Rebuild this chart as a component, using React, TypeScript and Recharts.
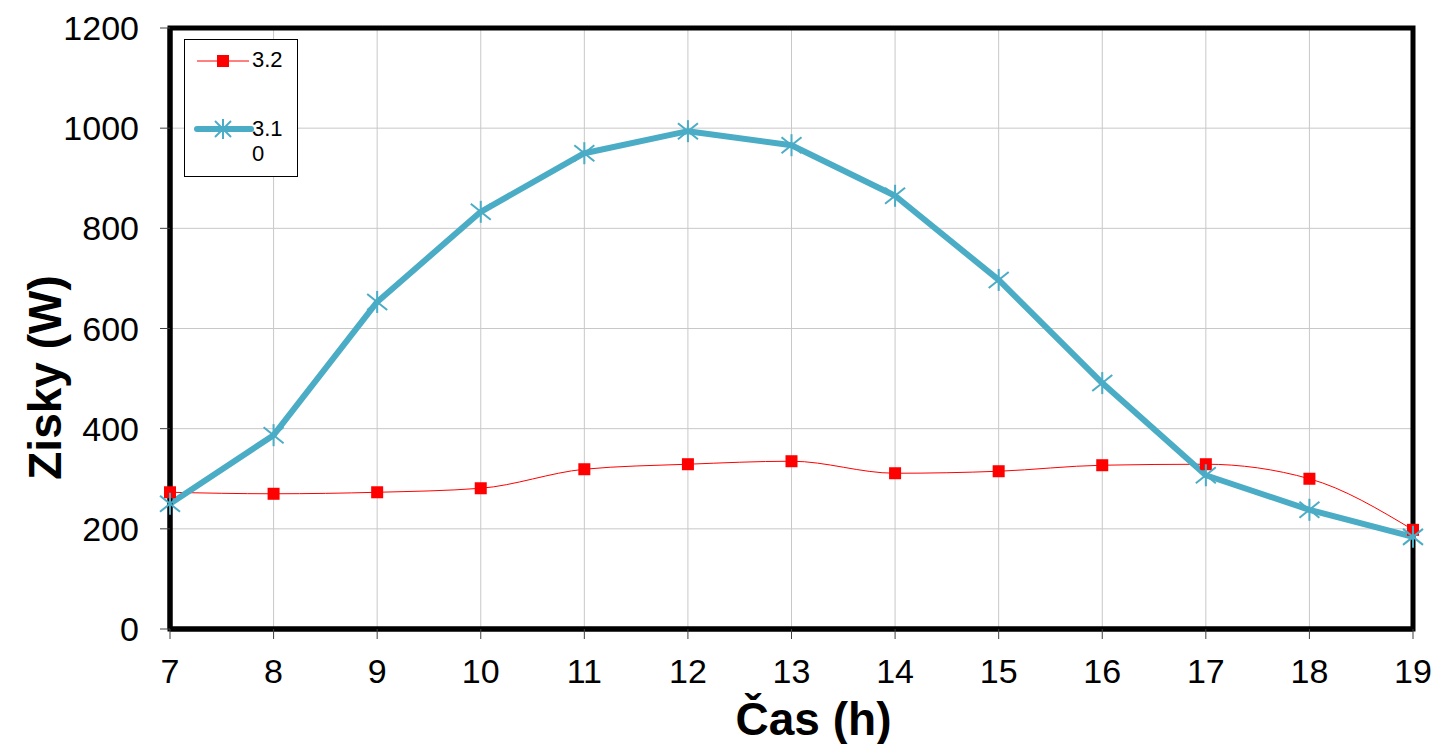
import {
  CartesianGrid,
  Legend,
  Line,
  LineChart,
  ReferenceArea,
  XAxis,
  YAxis,
} from "recharts";

const hours = [7, 8, 9, 10, 11, 12, 13, 14, 15, 16, 17, 18, 19];
const gains32 = [273, 270, 273, 281, 319, 329, 335, 311, 315, 327, 329, 300, 198];
const gains310 = [250, 387, 653, 833, 950, 994, 966, 865, 697, 491, 307, 238, 184];
const yTicks = [0, 200, 400, 600, 800, 1000, 1200];

const FONT = "'Liberation Sans', Arial, sans-serif";
const RED = "#FF0000";
const BLUE = "#4BACC6";

const data = hours.map((h, i) => ({
  hour: h,
  s32: gains32[i],
  s310: gains310[i],
}));

function SquareDot({ cx, cy }: { cx?: number; cy?: number }) {
  if (cx == null || cy == null) return null;
  return <rect x={cx - 6} y={cy - 6} width={12} height={12} fill={RED} />;
}

function StarDot({ cx, cy }: { cx?: number; cy?: number }) {
  if (cx == null || cy == null) return null;
  return (
    <g stroke={BLUE} strokeWidth={2}>
      <line x1={cx - 10} y1={cy - 8} x2={cx + 10} y2={cy + 8} />
      <line x1={cx - 10} y1={cy + 8} x2={cx + 10} y2={cy - 8} />
      <line x1={cx} y1={cy - 11} x2={cx} y2={cy + 11} />
    </g>
  );
}

function ChartLegend() {
  return (
    <div
      style={{
        width: 114,
        height: 138,
        border: "1px solid #000",
        background: "#fff",
        boxSizing: "border-box",
        position: "relative",
        fontFamily: FONT,
        fontSize: 22,
        color: "#000",
      }}
    >
      <svg width={60} height={20} style={{ position: "absolute", left: 10, top: 11 }}>
        <line x1={2} y1={10} x2={54} y2={10} stroke={RED} strokeWidth={1} />
        <rect x={22} y={4} width={12} height={12} fill={RED} />
      </svg>
      <div style={{ position: "absolute", left: 67, top: 8, lineHeight: "24px" }}>3.2</div>
      <svg width={64} height={24} style={{ position: "absolute", left: 8, top: 77 }}>
        <line x1={4} y1={12} x2={58} y2={12} stroke={BLUE} strokeWidth={6} strokeLinecap="round" />
        <line x1={22} y1={4} x2={38} y2={20} stroke={BLUE} strokeWidth={2} />
        <line x1={22} y1={20} x2={38} y2={4} stroke={BLUE} strokeWidth={2} />
        <line x1={30} y1={2} x2={30} y2={22} stroke={BLUE} strokeWidth={2} />
      </svg>
      <div
        style={{
          position: "absolute",
          left: 67,
          top: 76,
          width: 36,
          lineHeight: "25px",
          wordBreak: "break-all",
        }}
      >
        3.10
      </div>
    </div>
  );
}

function YLabel({ viewBox }: { viewBox?: { x: number; y: number; width: number; height: number } }) {
  if (!viewBox) return null;
  const x = viewBox.x + 45;
  const y = viewBox.y + viewBox.height / 2 + 49;
  return (
    <text
      x={x}
      y={y}
      transform={`rotate(-90 ${x} ${y})`}
      textAnchor="middle"
      dominantBaseline="central"
      fontFamily={FONT}
      fontSize={46}
      fontWeight="bold"
      fill="#000"
    >
      Zisky (W)
    </text>
  );
}

function XLabel({ viewBox }: { viewBox?: { x: number; y: number; width: number; height: number } }) {
  if (!viewBox) return null;
  return (
    <text
      x={viewBox.x + viewBox.width / 2 + 22}
      y={viewBox.y + 106}
      textAnchor="middle"
      fontFamily={FONT}
      fontSize={46}
      fontWeight="bold"
      fill="#000"
    >
      Čas (h)
    </text>
  );
}

export default function App() {
  const tickStyle = { fontFamily: FONT, fontSize: 34, fill: "#000" };
  return (
    <div style={{ position: "absolute", left: 0, top: 0, width: 1437, height: 744, background: "#fff" }}>
      <LineChart
        width={1437}
        height={744}
        data={data}
        margin={{ top: 28, right: 24, left: 0, bottom: 0 }}
      >
        <CartesianGrid stroke="#c8c8c8" strokeWidth={1} />
        <XAxis
          dataKey="hour"
          type="number"
          domain={[7, 19]}
          ticks={hours}
          height={115}
          tick={tickStyle}
          tickSize={10}
          tickMargin={20}
          tickLine={{ stroke: "#404040", strokeWidth: 1 }}
          axisLine={{ stroke: "#000", strokeWidth: 5 }}
          label={<XLabel />}
        />
        <YAxis
          type="number"
          domain={[0, 1200]}
          ticks={yTicks}
          width={170}
          tick={tickStyle}
          tickSize={10}
          tickMargin={21}
          tickLine={{ stroke: "#404040", strokeWidth: 1 }}
          axisLine={{ stroke: "#000", strokeWidth: 5 }}
          label={<YLabel />}
        />
        <ReferenceArea
          x1={7}
          x2={19}
          y1={0}
          y2={1200}
          fill="none"
          fillOpacity={0}
          stroke="#000"
          strokeWidth={5}
          strokeOpacity={1}
        />
        <Legend
          layout="vertical"
          align="center"
          verticalAlign="middle"
          wrapperStyle={{ left: 184, top: 39, width: 114, height: 138 }}
          content={<ChartLegend />}
        />
        <Line
          type="monotone"
          dataKey="s32"
          name="3.2"
          stroke={RED}
          strokeWidth={1}
          dot={<SquareDot />}
          activeDot={false}
          isAnimationActive={false}
        />
        <Line
          type="linear"
          dataKey="s310"
          name="3.10"
          stroke={BLUE}
          strokeWidth={6}
          strokeLinejoin="round"
          dot={<StarDot />}
          activeDot={false}
          isAnimationActive={false}
        />
      </LineChart>
    </div>
  );
}
